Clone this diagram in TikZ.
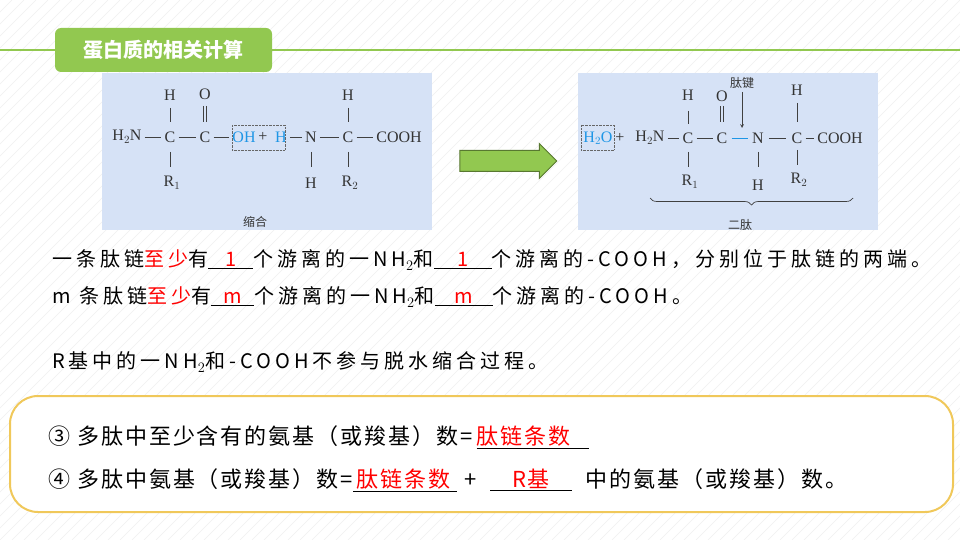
\documentclass[tikz,border=0pt]{standalone}
\usepackage{fontspec}
\setmainfont{Noto Sans CJK SC}
\newfontfamily\serifchem{Liberation Serif}
\newfontfamily\bodyfont[LetterSpace=20]{Noto Sans CJK SC}
\newfontfamily\boxfont[LetterSpace=9]{Noto Sans CJK SC}
\usetikzlibrary{shapes.arrows,decorations.pathreplacing}
\definecolor{tgreen}{RGB}{146,200,80}
\definecolor{imgbg}{RGB}{214,226,246}
\definecolor{chemblue}{RGB}{30,150,230}
\definecolor{boxy}{RGB}{240,200,90}
\newcommand\myblank[2]{\underline{\makebox[#1]{\color{red}#2}}}
\tikzset{
 chem/.style={font=\serifchem\fontsize{16}{17}\selectfont, inner sep=0pt, text=black!80},
 small/.style={font=\fontsize{12}{13}\selectfont, inner sep=0pt, text=black!80},
 body/.style={font=\bodyfont\fontsize{20}{22}\selectfont, inner sep=0pt, anchor=west},
 boxt/.style={font=\boxfont\fontsize{22}{24}\selectfont, inner sep=0pt, anchor=west},
 bond/.style={draw=black!75, line width=0.7pt}
}
\begin{document}
\begin{tikzpicture}[x=1pt,y=-1pt]
\useasboundingbox (0,0) rectangle (960,540);
\fill[white] (0,0) rectangle (960,540);
\foreach \i in {0,12,...,1500} {\draw[black!6, line width=0.5pt] (\i,0) -- (\i-540,540);}
% title
\draw[tgreen, line width=2.5pt] (0,50) -- (960,50);
\node[fill=tgreen, rounded corners=6pt, minimum width=217pt, minimum height=44pt, text=white, font=\bfseries\fontsize{20}{22}\selectfont] (title) at (163.5,50) {蛋白质的相关计算};
% left image
\fill[imgbg] (102,73) rectangle (432,230);
\node[chem] (a1) at (127,137) {H$_2$N};
\node[chem] (a2) at (170,137) {C};
\node[chem] (a3) at (205,137) {C};
\node[chem, text=chemblue] (a4) at (244,137) {OH};
\node[chem] (ap) at (263,137) {+};
\node[chem, text=chemblue] (a5) at (281,137) {H};
\node[chem] (a6) at (311,137) {N};
\node[chem] (a7) at (348,137) {C};
\node[chem] (a8) at (399,137) {COOH};
\node[chem] (a2t) at (170,95) {H};
\node[chem] (a3t) at (205,94) {O};
\node[chem] (a7t) at (348,95) {H};
\node[chem] (a2b) at (172,183) {R$_1$};
\node[chem] (a6b) at (311,183) {H};
\node[chem] (a7b) at (350,183) {R$_2$};
\draw[bond] (a1.east)+(3,0) -- ([xshift=-3]a2.west);
\draw[bond] (a2.east)+(3,0) -- ([xshift=-3]a3.west);
\draw[bond] (a3.east)+(3,0) -- ([xshift=-3]a4.west);
\draw[bond] (a5.east)+(3,0) -- ([xshift=-3]a6.west);
\draw[bond] (a6.east)+(3,0) -- ([xshift=-3]a7.west);
\draw[bond] (a7.east)+(3,0) -- ([xshift=-3]a8.west);
\draw[bond] (170,108) -- (170,122); \draw[bond] (170,152) -- (170,167);
\draw[bond] (203.5,106) -- (203.5,122); \draw[bond] (206.5,106) -- (206.5,122);
\draw[bond] (348,108) -- (348,122); \draw[bond] (348,152) -- (348,167);
\draw[bond] (311,152) -- (311,167);
\draw[black!60, densely dotted] (232,125) rectangle (285,150);
\node[small] (l1) at (255,222) {缩合};
% arrow
\node[single arrow, fill=tgreen, draw=tgreen!60!black, line width=1pt, minimum height=97pt, single arrow head extend=7pt, inner sep=0pt] (arr) at (503,161) {\rule{0pt}{20pt}};
% right image
\fill[imgbg] (578,73) rectangle (878,230);
\node[chem, text=chemblue] (b0) at (598,138) {H$_2$O};
\draw[black!60, densely dotted] (581,125) rectangle (614,150);
\node[chem] (bp) at (620,138) {+};
\node[chem] (b1) at (650,138) {H$_2$N};
\node[chem] (b2) at (688,138) {C};
\node[chem] (b3) at (722,138) {C};
\node[chem] (b4) at (758,138) {N};
\node[chem] (b5) at (797,138) {C};
\node[chem] (b6) at (840,138) {COOH};
\node[chem] (b2t) at (688,95) {H};
\node[chem] (b3t) at (722,96) {O};
\node[chem] (b5t) at (797,90) {H};
\node[chem] (b2b) at (690,182) {R$_1$};
\node[chem] (b4b) at (758,185) {H};
\node[chem] (b5b) at (799,180) {R$_2$};
\node[small] (pj) at (742,83) {肽键};
\draw[bond] (b1.east)+(3,0) -- ([xshift=-3]b2.west);
\draw[bond] (b2.east)+(3,0) -- ([xshift=-3]b3.west);
\draw[chemblue, line width=0.9pt] (b3.east)+(4,0) -- ([xshift=-4]b4.west);
\draw[bond] (b4.east)+(5,0) -- ([xshift=-5]b5.west);
\draw[bond] (b5.east)+(3,0) -- ([xshift=-3]b6.west);
\draw[bond] (688,111) -- (688,124); \draw[bond] (688,152) -- (688,167);
\draw[bond] (720.5,106) -- (720.5,122); \draw[bond] (723.5,106) -- (723.5,122);
\draw[bond] (797,103) -- (797,122); \draw[bond] (797,150) -- (797,165);
\draw[bond] (758,152) -- (758,167);
\draw[bond, -stealth] (pj.south)+(0,3) -- (742,128);
\draw[bond, decorate, decoration={brace, amplitude=7pt, mirror}] (650,198) -- (853,198);
\node[small] (l2) at (740,225) {二肽};
% text lines
\node[body] (t1) at (52,260) {一条肽链{\color{red}至少}有\myblank{45pt}{1}个游离的一NH$_2$和\myblank{58pt}{1}个游离的-COOH，分别位于肽链的两端。};
\node[body] (t2) at (52,297) {m 条肽链{\color{red}至少}有\myblank{43pt}{m}个游离的一NH$_2$和\myblank{58pt}{m}个游离的-COOH。};
\node[body] (t3) at (52,362) {R基中的一NH$_2$和-COOH不参与脱水缩合过程。};
% bottom box
\draw[boxy, line width=2pt, fill=white, rounded corners=28pt] (10,396) rectangle (953,512);
\node[boxt] (r3) at (48,437) {③ 多肽中至少含有的氨基（或羧基）数=\,\myblank{112pt}{肽链条数\hspace{18pt}}};
\node[boxt] (r4) at (48,480) {④ 多肽中氨基（或羧基）数=\myblank{104pt}{肽链条数\hspace{4pt}}\ +\ \ \myblank{82pt}{\textit{R}基}\ \ 中的氨基（或羧基）数。};
\end{tikzpicture}
\end{document}
